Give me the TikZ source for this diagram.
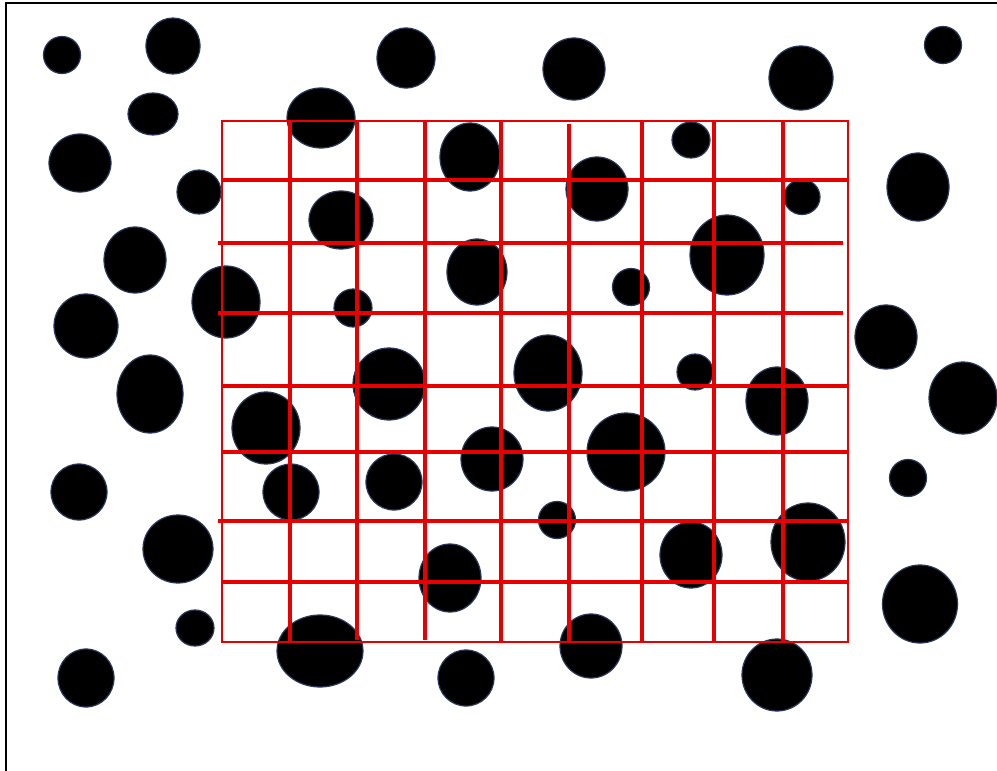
\documentclass[tikz,border=0pt]{standalone}
\usepackage{tikz}
\definecolor{gridred}{RGB}{230,0,0}
\definecolor{dotedge}{RGB}{40,55,90}
\tikzset{
  dot/.style={fill=black,draw=dotedge,line width=1.2pt},
  gridouter/.style={draw=gridred,line width=2.4pt},
  gridline/.style={draw=gridred,line width=4pt},
  frameline/.style={draw=black,line width=2pt}
}
\begin{document}
\begin{tikzpicture}[x=1pt,y=-1pt]
\useasboundingbox (0,0) rectangle (997,771);
\fill[white] (0,0) rectangle (997,771);
\draw[frameline] (5.5,771) -- (5.5,2.5) -- (997,2.5);
% dots
\foreach \cx/\cy/\rx/\ry in {
 62/55/18.5/18.5, 173/46/27/28, 406/58/29/30, 574/69/31/31, 801/78/32/32, 943/45/18.5/18.5,
 153/114/25/21, 321/118/34/30, 80/163/31/29, 199/192/22/22, 470/157/30/34, 597/189/31/32,
 691/140/19/18, 802/197/18/17.5, 918/187/31/34, 341/220/32/29, 135/260/31/33, 477/272/30/33,
 631/287/18.5/18.5, 727/255/37/40, 226/302/34/36, 353/308/19/19, 86/326/32/32, 886/337/31/32,
 150/394/33/39, 389/384/36/36, 548/373/34/38, 695/372/18/18, 777/401/31/34, 963/398/34/36,
 266/428/34/36, 492/459/31/32, 626/452/39/39, 79/492/28/28, 291/492/28/28, 394/482/28/28,
 908/478/18.5/18.5, 557/520/18.5/18.5, 178/549/35/34, 450/578/31/34, 691/555/31/33,
 808/542/37/39, 920/604/37.5/39, 195/628/19/18, 320/651/43/36, 591/646/31/32,
 86/678/28/29, 466/678/28/28, 777/675/35/36}
 { \path[dot] (\cx,\cy) ellipse [x radius=\rx, y radius=\ry]; }
% grid
\draw[gridouter] (222,121) rectangle (848,642);
\foreach \x/\ya/\yb in {290/121/642, 357/121/640, 425/121/640, 501/121/642, 569/124/642, 642/121/642, 714/121/642, 783/121/642}
 { \draw[gridline] (\x,\ya) -- (\x,\yb); }
\foreach \y/\xa/\xb in {180/222/848, 243/218/843, 313/218/843, 386/222/848, 452/222/848, 521/218/848, 582/222/848}
 { \draw[gridline] (\xa,\y) -- (\xb,\y); }
\end{tikzpicture}
\end{document}
